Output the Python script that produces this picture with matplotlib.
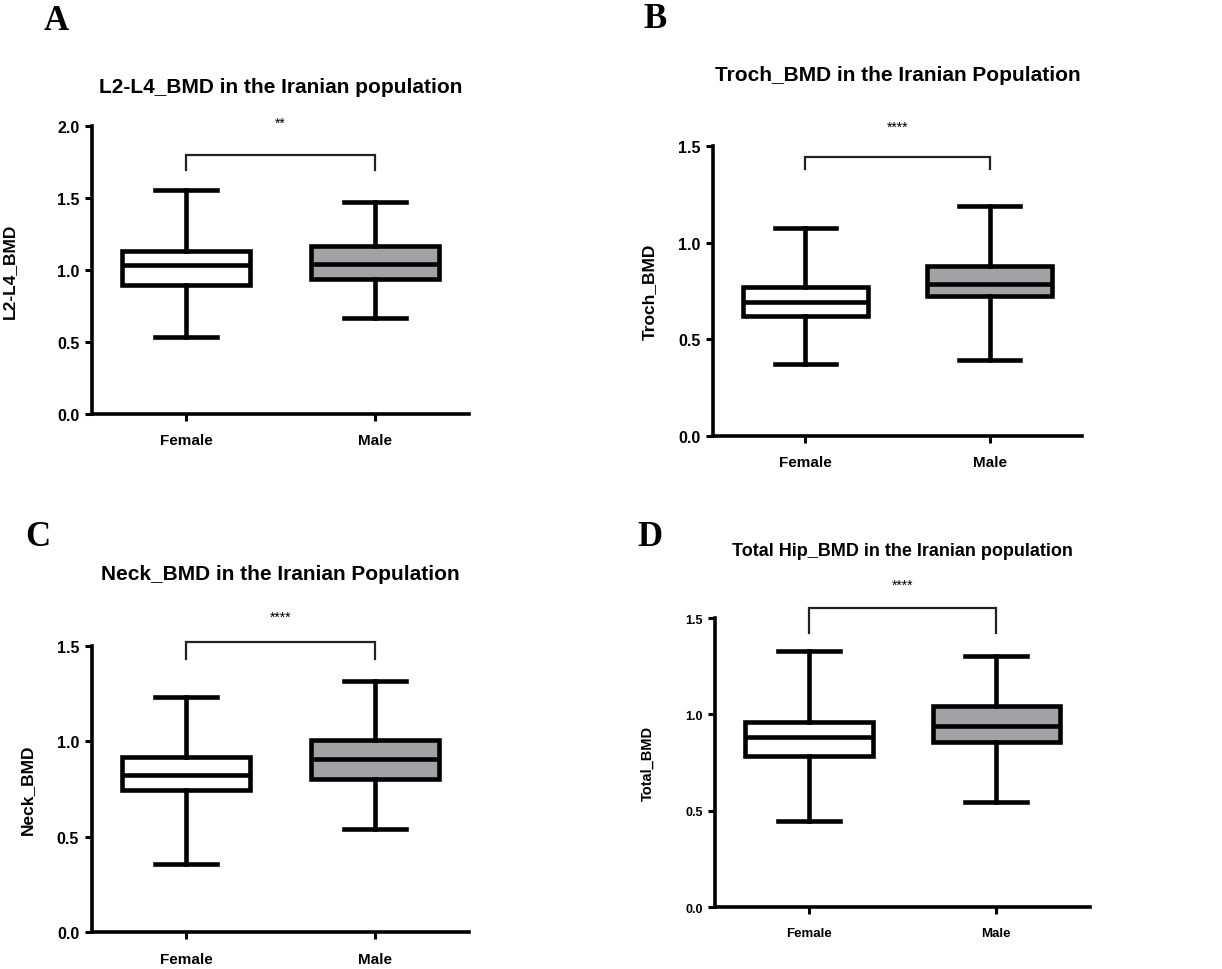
import matplotlib
matplotlib.use('Agg')
import matplotlib.pyplot as plt

plt.rcParams['font.family'] = ['Liberation Sans', 'DejaVu Sans']

GROUPS = ['Female', 'Male']
FILL_COLORS = ['white', '#a2a1a6']

# box summaries per site: (whislo, q1, med, q3, whishi) for Female, Male
L2L4_BOX = [(0.536, 0.895, 1.035, 1.133, 1.553), (0.666, 0.936, 1.040, 1.167, 1.468)]
TROCH_BOX = [(0.372, 0.620, 0.693, 0.772, 1.075), (0.392, 0.726, 0.785, 0.881, 1.191)]
NECK_BOX = [(0.358, 0.747, 0.825, 0.919, 1.230), (0.541, 0.802, 0.907, 1.008, 1.317)]
TOTAL_BOX = [(0.446, 0.785, 0.881, 0.961, 1.327), (0.544, 0.855, 0.942, 1.045, 1.301)]

TITLES = ['L2-L4_BMD in the Iranian population',
          'Troch_BMD in the Iranian Population',
          'Neck_BMD in the Iranian Population',
          'Total Hip_BMD in the Iranian population']
YLABELS = ['L2-L4_BMD', 'Troch_BMD', 'Neck_BMD', 'Total_BMD']
YMAX = [2.0, 1.5, 1.5, 1.5]
SIGNIF = ['**', '****', '****', '****']
# bracket (top, leg end) and star height in data units
BRACKETS = [(1.796, 1.69, 2.02), (1.446, 1.382, 1.60), (1.518, 1.430, 1.65), (1.550, 1.422, 1.67)]
PANEL_LETTERS = ['A', 'B', 'C', 'D']

W, H = 1222, 970
# axes rectangles in pixels: left, top, right, bottom
AX_PX = [(92, 126.7, 469, 415), (713.3, 147.3, 1081.7, 436.7),
         (91.7, 646.7, 469, 933.3), (715, 619, 1090, 908.3)]
TITLE_PAD = [24, 48, 48, 45]
LETTER_PX = [(56, 22), (655, 20), (38, 537), (650, 537)]
YLABEL_OFF = [75, 56, 57, 60]


def to_stats(boxes):
    stats = []
    for name, (lo, q1, med, q3, hi) in zip(GROUPS, boxes):
        stats.append({'label': name, 'whislo': lo, 'q1': q1, 'med': med,
                      'q3': q3, 'whishi': hi, 'fliers': []})
    return stats


fig = plt.figure(figsize=(W / 100, H / 100), dpi=100)

all_boxes = [L2L4_BOX, TROCH_BOX, NECK_BOX, TOTAL_BOX]
for i, boxes in enumerate(all_boxes):
    l, t, r, b = AX_PX[i]
    ax = fig.add_axes([l / W, 1 - b / H, (r - l) / W, (b - t) / H])
    small = (i == 3)

    art = ax.bxp(to_stats(boxes), positions=[0, 1], widths=0.68, capwidths=0.33,
                 patch_artist=True, showfliers=False,
                 boxprops=dict(linewidth=3.3, edgecolor='black'),
                 medianprops=dict(linewidth=3.3, color='black'),
                 whiskerprops=dict(linewidth=3.3, color='black'),
                 capprops=dict(linewidth=3.3, color='black'))
    for patch, c in zip(art['boxes'], FILL_COLORS):
        patch.set_facecolor(c)

    ax.set_xlim(-0.5, 1.5)
    ax.set_ylim(0, YMAX[i])
    ax.set_yticks([v * 0.5 for v in range(int(YMAX[i] / 0.5) + 1)])
    ax.yaxis.set_major_formatter(matplotlib.ticker.FormatStrFormatter('%.1f'))
    ax.set_xticks([0, 1])
    ax.set_xticklabels(GROUPS)

    for side in ['top', 'right']:
        ax.spines[side].set_visible(False)
    for side in ['left', 'bottom']:
        ax.spines[side].set_linewidth(2.6)
    ax.tick_params(width=2.2, length=5, direction='out')
    ax.tick_params(axis='y', labelsize=9 if small else 11.5, pad=4)
    ax.tick_params(axis='x', labelsize=9.5 if small else 11, pad=9)
    for lab in ax.get_xticklabels() + ax.get_yticklabels():
        lab.set_fontweight('bold')

    ax.set_ylabel(YLABELS[i], fontsize=10.5 if small else 12.5, fontweight='bold')
    ax.yaxis.set_label_coords(-YLABEL_OFF[i] / (r - l), 0.5)

    ax.annotate(TITLES[i], xy=(0.5, 1), xycoords='axes fraction',
                xytext=(0, TITLE_PAD[i]), textcoords='offset points',
                ha='center', va='baseline', fontsize=13 if small else 15,
                fontweight='bold')

    top, leg, star_y = BRACKETS[i]
    ax.plot([0, 0, 1, 1], [leg, top, top, leg], color='#222222', lw=1.6,
            clip_on=False, solid_joinstyle='miter')
    ax.text(0.5, star_y, SIGNIF[i], ha='center', va='center', fontsize=10,
            clip_on=False)

    lx, ly = LETTER_PX[i]
    fig.text(lx / W, 1 - ly / H, PANEL_LETTERS[i], ha='center', va='center',
             fontsize=25, fontweight='bold', family='Liberation Serif')

fig.savefig('out.png', dpi=100)
